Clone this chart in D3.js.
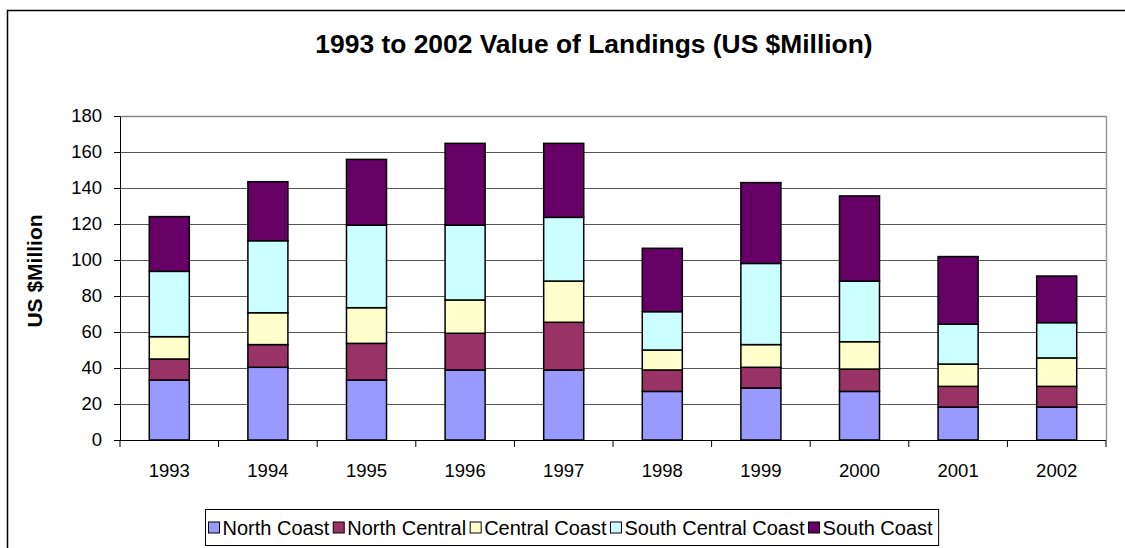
<!DOCTYPE html>
<html><head><meta charset="utf-8">
<script src="https://cdn.jsdelivr.net/npm/d3@7"></script>
<style>body{margin:0;background:#fff}svg{display:block}text{font-family:Arial,"Liberation Sans",sans-serif}</style>
</head><body><svg id="c" width="1125" height="548"></svg>
<script>
const years = ["1993","1994","1995","1996","1997","1998","1999","2000","2001","2002"];
const seriesNames = ["North Coast","North Central","Central Coast","South Central Coast","South Coast"];
const northCoast = [33.3,40.4,33.3,38.9,38.9,27.0,28.9,27.0,18.3,18.3];
const northCentral = [11.7,12.6,20.4,20.4,26.5,11.9,11.5,12.4,11.5,11.5];
const centralCoast = [12.4,17.7,19.8,18.5,22.9,11.1,12.6,15.2,12.4,15.8];
const southCentralCoast = [36.3,40.0,45.9,41.6,35.4,21.3,45.1,33.7,22.2,19.6];
const southCoast = [30.4,32.8,36.5,45.4,41.1,35.2,44.9,47.3,37.5,25.9];
const yTicks = [0,20,40,60,80,100,120,140,160,180];
const colors = ["#9999FF","#993366","#FFFFCC","#CCFFFF","#660066"];

(function(){
const svg = d3.select("#c");
const font = 'Arial,"Liberation Sans",sans-serif';
const fs = 18.5;
// outer frame
svg.append("rect").attr("x",7.5).attr("y",10.5).attr("width",1130).attr("height",560)
  .attr("fill","#fff").attr("stroke","#000").attr("stroke-width",1.5);

const pLeft=120, pRight=1106, pTop=116, pBottom=440;
const x = d3.scaleBand().domain(years).range([pLeft,pRight]).paddingInner(0.594).paddingOuter(0.297);
const y = d3.scaleLinear().domain([0,180]).range([pBottom,pTop]);

// gridlines
svg.append("g").selectAll("line").data(yTicks.slice(1)).join("line")
  .attr("x1",pLeft).attr("x2",pRight).attr("y1",d=>Math.round(y(d))+0.5).attr("y2",d=>Math.round(y(d))+0.5)
  .attr("stroke","#555").attr("stroke-width",1);
// plot border
svg.append("line").attr("x1",pRight+0.5).attr("x2",pRight+0.5).attr("y1",pTop).attr("y2",pBottom)
  .attr("stroke","#999").attr("stroke-width",1.5);
svg.append("line").attr("x1",pLeft).attr("x2",pRight).attr("y1",pTop+0.5).attr("y2",pTop+0.5)
  .attr("stroke","#888").attr("stroke-width",1.5);

// stacked data
const rows = years.map((yr,i)=>({year:yr, "North Coast":northCoast[i], "North Central":northCentral[i],
  "Central Coast":centralCoast[i], "South Central Coast":southCentralCoast[i], "South Coast":southCoast[i]}));
const stack = d3.stack().keys(seriesNames)(rows);
svg.append("g").selectAll("g").data(stack).join("g")
  .attr("fill",(d,i)=>colors[i])
  .selectAll("rect").data(d=>d).join("rect")
  .attr("x",d=>x(d.data.year)).attr("width",x.bandwidth())
  .attr("y",d=>y(d[1])).attr("height",d=>y(d[0])-y(d[1]))
  .attr("stroke","#000").attr("stroke-width",1.5);

// y axis
const ya = svg.append("g").attr("transform",`translate(${pLeft},0)`)
  .call(d3.axisLeft(y).tickValues(yTicks).tickSize(6).tickPadding(12).tickSizeOuter(0));
ya.select(".domain").attr("stroke","#000");
ya.selectAll(".tick line").attr("stroke","#000");
ya.selectAll("text").attr("font-size",fs).attr("font-family",font).attr("fill","#000");

// x axis
const xa = svg.append("g").attr("transform",`translate(0,${pBottom})`);
xa.append("line").attr("x1",pLeft).attr("x2",pRight).attr("y1",0.5).attr("y2",0.5).attr("stroke","#000");
const step = x.step();
const bounds = d3.range(years.length+1).map(i=>pLeft+i*step);
xa.selectAll("line.t").data(bounds).join("line").attr("class","t")
  .attr("x1",d=>d).attr("x2",d=>d).attr("y1",0).attr("y2",7).attr("stroke","#000");
xa.selectAll("text").data(years).join("text")
  .attr("x",d=>x(d)+x.bandwidth()/2).attr("y",37).attr("text-anchor","middle")
  .attr("font-size",fs).attr("font-family",font).text(d=>d);

// title
svg.append("text").attr("x",594).attr("y",53).attr("text-anchor","middle")
  .attr("font-size",26.4).attr("font-weight","bold").attr("font-family",font)
  .text("1993 to 2002 Value of Landings (US $Million)");
// y label
svg.append("text").attr("transform","translate(42,271) rotate(-90)").attr("text-anchor","middle")
  .attr("font-size",21).attr("font-weight","bold").attr("font-family",font).text("US $Million");

// legend
const lg = svg.append("g");
const lgX=205.5, lgY=509.5, lgH=36;
const box = lg.append("rect").attr("x",lgX).attr("y",lgY).attr("height",lgH).attr("fill","#fff")
  .attr("stroke","#000").attr("stroke-width",1);
let cx = lgX+3;
seriesNames.forEach((n,i)=>{
  lg.append("rect").attr("x",cx).attr("y",lgY+12.5).attr("width",11).attr("height",11)
    .attr("fill",colors[i]).attr("stroke","#000").attr("stroke-width",1);
  const t = lg.append("text").attr("x",cx+14).attr("y",lgY+25).attr("font-size",20)
    .attr("font-family",font).text(n);
  cx += 14 + t.node().getComputedTextLength() + 4;
});
box.attr("width",cx-lgX+2);
})();
</script></body></html>
